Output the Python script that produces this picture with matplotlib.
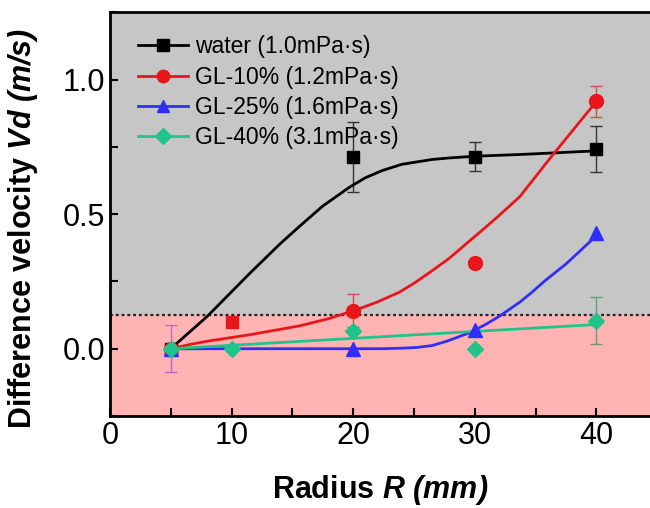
import matplotlib.pyplot as plt
from matplotlib.ticker import MultipleLocator

plt.rcParams['font.family'] = ['Liberation Sans', 'DejaVu Sans']
plt.rcParams['mathtext.fontset'] = 'custom'
plt.rcParams['mathtext.rm'] = 'Liberation Sans'
plt.rcParams['mathtext.it'] = 'Liberation Sans:italic'
plt.rcParams['mathtext.bf'] = 'Liberation Sans:bold'
plt.rcParams['mathtext.bfit'] = 'Liberation Sans:italic:bold'

# measured points (radius in mm, Vd in m/s)
water_r = [5, 20, 30, 40]
water_v = [0.0, 0.713, 0.714, 0.742]
water_err = [0.0, 0.13, 0.055, 0.086]

gl10_r = [5, 10, 20, 30, 40]
gl10_v = [0.0, 0.098, 0.142, 0.317, 0.919]
gl10_err = [0.0, 0.0, 0.063, 0.0, 0.058]

gl25_r = [5, 20, 30, 40]
gl25_v = [0.0, 0.0, 0.07, 0.429]

gl40_r = [5, 10, 20, 30, 40]
gl40_v = [0.0, 0.0, 0.067, 0.0, 0.104]
gl40_err = [0.087, 0.0, 0.0, 0.0, 0.088]

# fitted curves
water_fit_r = [5, 8, 11.5, 14, 15.6, 17.5, 19.7, 21, 22.4, 24, 26.5, 28, 30, 34, 40]
water_fit_v = [0.0, 0.12, 0.28, 0.39, 0.455, 0.53, 0.6, 0.635, 0.662, 0.685, 0.703,
               0.709, 0.715, 0.722, 0.735]

gl10_fit_r = [5, 6.5, 8, 11.5, 15.6, 18, 20.1, 21.9, 23.8, 25, 26.5, 27.9,
              29.3, 30.6, 32, 33.7, 36.3, 40]
gl10_fit_v = [0.0, 0.015, 0.028, 0.052, 0.085, 0.112, 0.142, 0.172, 0.21, 0.243,
              0.29, 0.336, 0.39, 0.44, 0.495, 0.565, 0.714, 0.919]

gl25_fit_r = [5, 15, 22.2, 24, 25.3, 26.5, 27.7, 28.6, 29.6, 30.8, 32, 33.7,
              34.7, 35.7, 37.5, 40]
gl25_fit_v = [0.0, 0.0, 0.0, 0.002, 0.005, 0.012, 0.028, 0.043, 0.06, 0.088,
              0.12, 0.173, 0.21, 0.25, 0.315, 0.42]

gl40_fit_r = [5, 40]
gl40_fit_v = [0.0, 0.09]

threshold = 0.125

labels = ["water (1.0mPa\u00b7s)", "GL-10% (1.2mPa\u00b7s)",
          "GL-25% (1.6mPa\u00b7s)", "GL-40% (3.1mPa\u00b7s)"]
c_black, c_red, c_blue, c_green = "#000000", "#e8151b", "#2f2ff5", "#1fc48a"

fig = plt.figure(figsize=(6.5, 5.08), dpi=100)
ax = fig.add_axes([0.169, 0.181, 0.831, 0.795])

ax.set_xlim(0, 44.4)
ax.set_ylim(-0.25, 1.25)
ax.axhspan(threshold, 1.25, color="#c6c6c6", zorder=0)
ax.axhspan(-0.25, threshold, color="#ffb3b3", zorder=0)
ax.axhline(threshold, color="#222222", ls=(0, (1.3, 1.3)), lw=1.6, zorder=1)

# fitted curves
ax.plot(water_fit_r, water_fit_v, color=c_black, lw=2, zorder=3)
ax.plot(gl10_fit_r, gl10_fit_v, color=c_red, lw=2, zorder=3)
ax.plot(gl25_fit_r, gl25_fit_v, color=c_blue, lw=2, zorder=3)
ax.plot(gl40_fit_r, gl40_fit_v, color=c_green, lw=2, zorder=3)

# error bars
ax.errorbar(water_r, water_v, yerr=water_err, fmt="none", ecolor="#333333",
            elinewidth=1, capsize=4, zorder=2)
ax.errorbar(gl10_r, gl10_v, yerr=gl10_err, fmt="none", ecolor="#d05050",
            elinewidth=1, capsize=4, zorder=2)
ax.errorbar(gl40_r[1:], gl40_v[1:], yerr=gl40_err[1:], fmt="none", ecolor="#6a9a7a",
            elinewidth=1, capsize=4, zorder=2)
ax.errorbar(gl40_r[:1], gl40_v[:1], yerr=gl40_err[:1], fmt="none", ecolor="#b070c0",
            elinewidth=1, capsize=4, zorder=2)

# markers
ax.plot(water_r, water_v, "s", color=c_black, ms=9, zorder=4)
ax.plot([r for i, r in enumerate(gl10_r) if i != 1],
        [v for i, v in enumerate(gl10_v) if i != 1], "o", color=c_red, ms=10, zorder=4)
ax.plot(gl10_r[1:2], gl10_v[1:2], "s", color=c_red, ms=9, zorder=4)
ax.plot(gl25_r, gl25_v, "^", color=c_blue, ms=10, zorder=4)
ax.plot(gl40_r, gl40_v, "D", color=c_green, ms=8.5, zorder=5)

# legend handles
h = [ax.plot([], [], "-s", color=c_black, lw=2, ms=8)[0],
     ax.plot([], [], "-o", color=c_red, lw=2, ms=9)[0],
     ax.plot([], [], "-^", color=c_blue, lw=2, ms=9)[0],
     ax.plot([], [], "-D", color=c_green, lw=2, ms=8)[0]]
ax.legend(h, labels, loc="upper left", frameon=False, fontsize=16.5,
          handlelength=2.2, handletextpad=0.3, labelspacing=0.32,
          borderaxespad=0.0, bbox_to_anchor=(0.035, 0.965))

ax.xaxis.set_major_locator(MultipleLocator(10))
ax.xaxis.set_minor_locator(MultipleLocator(5))
ax.yaxis.set_major_locator(MultipleLocator(0.5))
ax.yaxis.set_minor_locator(MultipleLocator(0.25))
ax.tick_params(which="both", direction="in", labelsize=22, width=1.5,
               top=False, right=False)
ax.tick_params(which="major", length=6)
ax.tick_params(which="minor", length=6)
ax.set_yticks([0.0, 0.5, 1.0])
ax.set_yticklabels(["0.0", "0.5", "1.0"])

for s in ["left", "bottom", "top"]:
    ax.spines[s].set_linewidth(2)
ax.spines["right"].set_visible(False)

ax.set_xlabel("Radius $\\bfit{R\\ (mm)}$", fontsize=22, fontweight="bold", labelpad=16)
ax.set_ylabel("Difference velocity $\\bfit{Vd\\ (m/s)}$", fontsize=22,
              fontweight="bold")
ax.yaxis.set_label_coords(-0.13, 0.465)

fig.savefig("out.png", dpi=100)
